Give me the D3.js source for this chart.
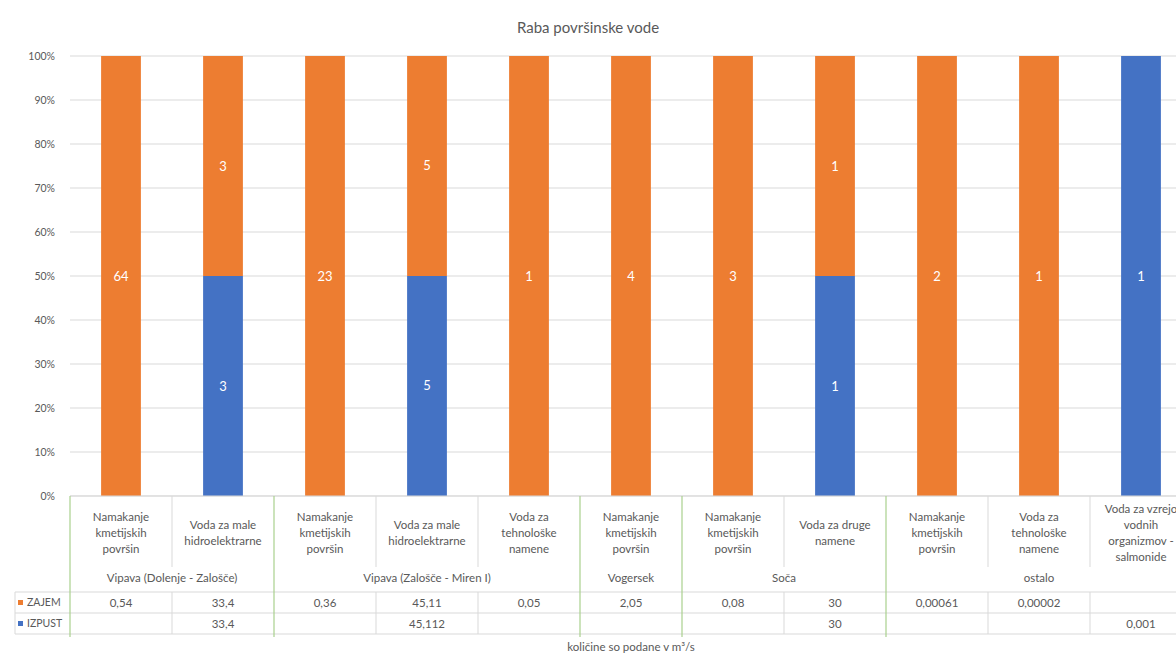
<!DOCTYPE html>
<html><head><meta charset="utf-8">
<script src="https://cdn.jsdelivr.net/npm/d3@7"></script>
<style>body{margin:0;background:#fff;} svg{display:block;font-family:Lato,"Open Sans",sans-serif;}</style>
</head><body>
<svg id="c" width="1176" height="654"></svg>
<script>
// ---- data ----
const categories = [
  ["Namakanje","kmetijskih","površin"],
  ["Voda za male","hidroelektrarne"],
  ["Namakanje","kmetijskih","površin"],
  ["Voda za male","hidroelektrarne"],
  ["Voda za","tehnološke","namene"],
  ["Namakanje","kmetijskih","površin"],
  ["Namakanje","kmetijskih","površin"],
  ["Voda za druge","namene"],
  ["Namakanje","kmetijskih","površin"],
  ["Voda za","tehnološke","namene"],
  ["Voda za vzrejo","vodnih","organizmov -","salmonide"]
];
const groups = ["Vipava (Dolenje - Zalošče)","Vipava (Zalošče - Miren I)","Vogersek","Soča","ostalo"];
const groupSizes = [2,3,1,2,3];
const zajem  = [0.54, 33.4, 0.36, 45.11, 0.05, 2.05, 0.08, 30, 0.00061, 0.00002, null];
const izpust = [null, 33.4, null, 45.112, null, null, null, 30, null, null, 0.001];
const zajemText  = ["0,54","33,4","0,36","45,11","0,05","2,05","0,08","30","0,00061","0,00002",""];
const izpustText = ["","33,4","","45,112","","","","30","","","0,001"];
const zajemLabels  = ["64","3","23","5","1","4","3","1","2","1",""];
const izpustLabels = ["","3","","5","","","","1","","","1"];
const yTicks = [0,0.1,0.2,0.3,0.4,0.5,0.6,0.7,0.8,0.9,1];
const title = "Raba površinske vode";
const note = "količine so podane v m³/s";
const seriesNames = ["ZAJEM","IZPUST"];
const colors = {ZAJEM:"#ED7D31", IZPUST:"#4472C4"};

// ---- layout ----
const svg = d3.select("#c");
const pLeft = 70, pRight = 1192, pTop = 56, pBottom = 496;
const idx = d3.range(categories.length);
const x = d3.scaleBand().domain(idx).range([pLeft,pRight]).paddingInner(0.61).paddingOuter(0.305);
const col = d3.scaleBand().domain(idx).range([pLeft,pRight]).padding(0);
const y = d3.scaleLinear().domain([0,1]).range([pBottom,pTop]);
const txt = "#595959", grid = "#d9d9d9", green = "#a9d18e";

svg.append("text").attr("x",588).attr("y",33).attr("text-anchor","middle")
  .attr("font-size",15).attr("fill",txt).text(title);

// gridlines
svg.append("g").selectAll("line").data(yTicks).join("line")
  .attr("x1",pLeft).attr("x2",pRight).attr("y1",d=>y(d)).attr("y2",d=>y(d))
  .attr("stroke",grid).attr("stroke-width",1);

// y axis
const ya = svg.append("g").attr("transform",`translate(${pLeft-12},0)`)
  .call(d3.axisLeft(y).tickValues(yTicks).tickFormat(d3.format(".0%")).tickSize(0));
ya.select(".domain").remove();
ya.selectAll("text").attr("fill",txt).attr("font-size",10.5).attr("font-family","Lato, sans-serif");

// stacked 100%
const rows = idx.map(i=>({i, ZAJEM: zajem[i]||0, IZPUST: izpust[i]||0}));
rows.forEach(r=>{const t=r.ZAJEM+r.IZPUST; r.ZAJEM/=t; r.IZPUST/=t;});
const stack = d3.stack().keys(["IZPUST","ZAJEM"])(rows);
const labels = {ZAJEM: zajemLabels, IZPUST: izpustLabels};
const bars = svg.append("g");
stack.forEach(s=>{
  bars.append("g").selectAll("rect").data(s).join("rect")
    .attr("x",d=>x(d.data.i)).attr("width",x.bandwidth())
    .attr("y",d=>y(d[1])).attr("height",d=>y(d[0])-y(d[1]))
    .attr("fill",colors[s.key]);
  bars.append("g").selectAll("text").data(s.filter(d=>d[1]>d[0])).join("text")
    .attr("x",d=>x(d.data.i)+x.bandwidth()/2).attr("y",d=>y((d[0]+d[1])/2)+4.5)
    .attr("text-anchor","middle").attr("fill","#fff").attr("font-size",13)
    .text(d=>labels[s.key][d.data.i]);
});

// ---- table ----
const tTop = pBottom, catBottom = 567, grpBottom = 592, r1 = 613, r2 = 634;
const fs = 11.5;
const t = svg.append("g");
[grpBottom, r1, r2].forEach(yy=>t.append("line").attr("x1",15).attr("x2",pRight).attr("y1",yy).attr("y2",yy).attr("stroke",grid));
t.append("line").attr("x1",pLeft).attr("x2",pRight).attr("y1",tTop).attr("y2",tTop).attr("stroke",grid);
t.append("line").attr("x1",15).attr("x2",15).attr("y1",grpBottom).attr("y2",r2).attr("stroke",grid);
let acc = 0; const bounds=[0];
groupSizes.forEach(g=>{acc+=g; bounds.push(acc);});
idx.slice(1).forEach(i=>{
  if(bounds.includes(i)) return;
  const xx = col(i);
  t.append("line").attr("x1",xx).attr("x2",xx).attr("y1",tTop).attr("y2",catBottom).attr("stroke",grid);
  t.append("line").attr("x1",xx).attr("x2",xx).attr("y1",grpBottom).attr("y2",r2).attr("stroke",grid);
});
bounds.forEach(b=>{
  const xx = b<categories.length? col(b) : pRight;
  t.append("line").attr("x1",xx).attr("x2",xx).attr("y1",tTop).attr("y2",r2+3).attr("stroke",green).attr("stroke-width",1.2);
});
idx.forEach(i=>{
  const lines = categories[i];
  const cx = col(i)+col.bandwidth()/2, lh = 16;
  const y0 = 533 - (lines.length-1)*lh/2;
  const te = t.append("text").attr("text-anchor","middle").attr("fill",txt).attr("font-size",fs);
  lines.forEach((l,k)=>te.append("tspan").attr("x",cx).attr("y",y0+k*lh+4).text(l));
});
groups.forEach((g,k)=>{
  const x0 = col(bounds[k]), x1 = bounds[k+1]<categories.length? col(bounds[k+1]) : pRight;
  t.append("text").attr("x",(x0+x1)/2).attr("y",582).attr("text-anchor","middle")
    .attr("fill",txt).attr("font-size",fs).text(g);
});
[[zajemText,(grpBottom+r1)/2],[izpustText,(r1+r2)/2]].forEach(([arr,yy])=>{
  t.append("g").selectAll("text").data(idx).join("text")
    .attr("x",i=>col(i)+col.bandwidth()/2).attr("y",yy+4).attr("text-anchor","middle")
    .attr("fill",txt).attr("font-size",fs).text(i=>arr[i]);
});
seriesNames.forEach((s,k)=>{
  const yy = k===0? (grpBottom+r1)/2 : (r1+r2)/2;
  t.append("rect").attr("x",18).attr("y",yy-2.5).attr("width",5).attr("height",5).attr("fill",colors[s]);
  t.append("text").attr("x",27).attr("y",yy+3.5).attr("fill",txt).attr("font-size",10.5).text(s);
});
svg.append("text").attr("x",(pLeft+pRight)/2).attr("y",651).attr("text-anchor","middle").attr("fill",txt).attr("font-size",fs).text(note);
</script>
</body></html>
